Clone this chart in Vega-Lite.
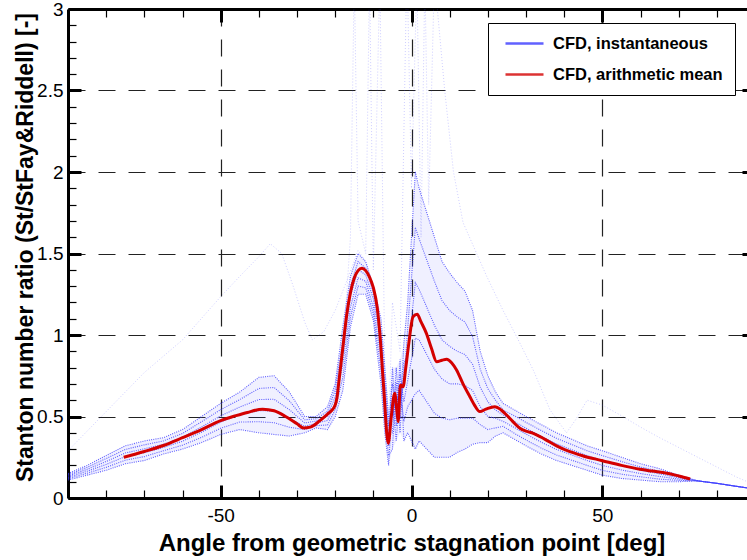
{
"$schema": "https://vega.github.io/schema/vega-lite/v6.json",
"width": 679, "height": 489,
"autosize": "none",
"padding": {"left": 68, "top": 9, "right": 0, "bottom": 62},
"background": "white",
"config": {"view": {"stroke": null}, "font": "Liberation Sans"},
"datasets": {
"band": [
{"x":-90,"lo":0.11,"hi":0.15},{"x":-85,"lo":0.14,"hi":0.2},{"x":-80,"lo":0.17,"hi":0.26},{"x":-75,"lo":0.21,"hi":0.32},{"x":-70,"lo":0.23,"hi":0.35},{"x":-65,"lo":0.27,"hi":0.37},{"x":-60,"lo":0.3,"hi":0.42},{"x":-55,"lo":0.34,"hi":0.5},{"x":-50,"lo":0.39,"hi":0.58},{"x":-45,"lo":0.42,"hi":0.65},{"x":-40,"lo":0.4,"hi":0.74},{"x":-36,"lo":0.39,"hi":0.75},{"x":-32,"lo":0.38,"hi":0.65},{"x":-28,"lo":0.4,"hi":0.5},{"x":-25,"lo":0.43,"hi":0.5},{"x":-22,"lo":0.42,"hi":0.56},{"x":-20,"lo":0.5,"hi":0.7},{"x":-18,"lo":0.66,"hi":1.05},{"x":-16,"lo":1.05,"hi":1.36},{"x":-14,"lo":1.25,"hi":1.5},{"x":-12,"lo":1.25,"hi":1.45},{"x":-10,"lo":1.09,"hi":1.3},{"x":-8,"lo":0.7,"hi":1.1},{"x":-7,"lo":0.4,"hi":0.8},{"x":-6,"lo":0.2,"hi":0.5},{"x":-5,"lo":0.3,"hi":0.8},{"x":-4,"lo":0.35,"hi":0.8},{"x":-3,"lo":0.4,"hi":0.85},{"x":-2,"lo":0.35,"hi":0.95},{"x":-1,"lo":0.4,"hi":1.2},{"x":0,"lo":0.35,"hi":1.6},{"x":1,"lo":0.3,"hi":2.0},{"x":2,"lo":0.35,"hi":1.9},{"x":4,"lo":0.3,"hi":1.75},{"x":6,"lo":0.25,"hi":1.6},{"x":8,"lo":0.25,"hi":1.45},{"x":10,"lo":0.25,"hi":1.38},{"x":12,"lo":0.28,"hi":1.32},{"x":14,"lo":0.3,"hi":1.27},{"x":16,"lo":0.33,"hi":1.15},{"x":18,"lo":0.34,"hi":0.9},{"x":20,"lo":0.34,"hi":0.75},{"x":22,"lo":0.38,"hi":0.65},{"x":24,"lo":0.4,"hi":0.58},{"x":27,"lo":0.36,"hi":0.54},{"x":30,"lo":0.32,"hi":0.5},{"x":34,"lo":0.27,"hi":0.45},{"x":38,"lo":0.23,"hi":0.4},{"x":42,"lo":0.2,"hi":0.36},{"x":46,"lo":0.17,"hi":0.32},{"x":50,"lo":0.14,"hi":0.29},{"x":55,"lo":0.12,"hi":0.25},{"x":60,"lo":0.11,"hi":0.21},{"x":65,"lo":0.1,"hi":0.18},{"x":70,"lo":0.1,"hi":0.14},{"x":75,"lo":0.1,"hi":0.11},{"x":80,"lo":0.088,"hi":0.092},{"x":85,"lo":0.07,"hi":0.074},{"x":90,"lo":0.053,"hi":0.057}
],
"inst": [
{"k":"c1","x":-90,"y":0.11},{"k":"c1","x":-85,"y":0.14},{"k":"c1","x":-80,"y":0.17},{"k":"c1","x":-75,"y":0.21},{"k":"c1","x":-70,"y":0.23},{"k":"c1","x":-65,"y":0.27},{"k":"c1","x":-60,"y":0.3},{"k":"c1","x":-55,"y":0.34},{"k":"c1","x":-50,"y":0.39},{"k":"c1","x":-45,"y":0.42},{"k":"c1","x":-40,"y":0.4},{"k":"c1","x":-36,"y":0.39},{"k":"c1","x":-32,"y":0.38},{"k":"c1","x":-28,"y":0.4},{"k":"c1","x":-25,"y":0.43},{"k":"c1","x":-22,"y":0.42},{"k":"c1","x":-20,"y":0.5},{"k":"c1","x":-18,"y":0.66},{"k":"c1","x":-16,"y":1.05},{"k":"c1","x":-14,"y":1.25},{"k":"c1","x":-12,"y":1.25},{"k":"c1","x":-10,"y":1.09},{"k":"c1","x":-8,"y":0.7},{"k":"c1","x":-7,"y":0.4},{"k":"c1","x":-6,"y":0.2},{"k":"c1","x":-5,"y":0.6},{"k":"c1","x":-4,"y":0.35},{"k":"c1","x":-3,"y":0.67},{"k":"c1","x":-2,"y":0.47},{"k":"c1","x":-1,"y":0.56},{"k":"c1","x":0,"y":0.6},{"k":"c1","x":1,"y":0.64},{"k":"c1","x":2,"y":0.66},{"k":"c1","x":4,"y":0.59},{"k":"c1","x":6,"y":0.52},{"k":"c1","x":8,"y":0.49},{"k":"c1","x":10,"y":0.48},{"k":"c1","x":12,"y":0.49},{"k":"c1","x":14,"y":0.49},{"k":"c1","x":16,"y":0.49},{"k":"c1","x":18,"y":0.45},{"k":"c1","x":20,"y":0.42},{"k":"c1","x":22,"y":0.43},{"k":"c1","x":24,"y":0.44},{"k":"c1","x":27,"y":0.396},{"k":"c1","x":30,"y":0.356},{"k":"c1","x":34,"y":0.306},{"k":"c1","x":38,"y":0.264},{"k":"c1","x":42,"y":0.232},{"k":"c1","x":46,"y":0.2},{"k":"c1","x":50,"y":0.17},{"k":"c1","x":55,"y":0.146},{"k":"c1","x":60,"y":0.13},{"k":"c1","x":65,"y":0.116},{"k":"c1","x":70,"y":0.108},{"k":"c1","x":75,"y":0.105},{"k":"c1","x":80,"y":0.09},{"k":"c1","x":85,"y":0.072},{"k":"c1","x":90,"y":0.055},
{"k":"c2","x":-90,"y":0.118},{"k":"c2","x":-85,"y":0.152},{"k":"c2","x":-80,"y":0.188},{"k":"c2","x":-75,"y":0.232},{"k":"c2","x":-70,"y":0.254},{"k":"c2","x":-65,"y":0.29},{"k":"c2","x":-60,"y":0.324},{"k":"c2","x":-55,"y":0.372},{"k":"c2","x":-50,"y":0.428},{"k":"c2","x":-45,"y":0.466},{"k":"c2","x":-40,"y":0.468},{"k":"c2","x":-36,"y":0.462},{"k":"c2","x":-32,"y":0.434},{"k":"c2","x":-28,"y":0.42},{"k":"c2","x":-25,"y":0.444},{"k":"c2","x":-22,"y":0.448},{"k":"c2","x":-20,"y":0.54},{"k":"c2","x":-18,"y":0.74},{"k":"c2","x":-16,"y":1.11},{"k":"c2","x":-14,"y":1.3},{"k":"c2","x":-12,"y":1.29},{"k":"c2","x":-10,"y":1.13},{"k":"c2","x":-8,"y":0.78},{"k":"c2","x":-7,"y":0.48},{"k":"c2","x":-6,"y":0.26},{"k":"c2","x":-5,"y":0.3},{"k":"c2","x":-4,"y":0.71},{"k":"c2","x":-3,"y":0.4},{"k":"c2","x":-2,"y":0.83},{"k":"c2","x":-1,"y":0.88},{"k":"c2","x":0,"y":1.1},{"k":"c2","x":1,"y":1.32},{"k":"c2","x":2,"y":1.28},{"k":"c2","x":4,"y":1.17},{"k":"c2","x":6,"y":1.06},{"k":"c2","x":8,"y":0.97},{"k":"c2","x":10,"y":0.93},{"k":"c2","x":12,"y":0.9},{"k":"c2","x":14,"y":0.88},{"k":"c2","x":16,"y":0.82},{"k":"c2","x":18,"y":0.68},{"k":"c2","x":20,"y":0.59},{"k":"c2","x":22,"y":0.54},{"k":"c2","x":24,"y":0.51},{"k":"c2","x":27,"y":0.468},{"k":"c2","x":30,"y":0.428},{"k":"c2","x":34,"y":0.378},{"k":"c2","x":38,"y":0.332},{"k":"c2","x":42,"y":0.296},{"k":"c2","x":46,"y":0.26},{"k":"c2","x":50,"y":0.23},{"k":"c2","x":55,"y":0.198},{"k":"c2","x":60,"y":0.17},{"k":"c2","x":65,"y":0.148},{"k":"c2","x":70,"y":0.124},{"k":"c2","x":75,"y":0.105},{"k":"c2","x":80,"y":0.09},{"k":"c2","x":85,"y":0.072},{"k":"c2","x":90,"y":0.055},
{"k":"c3","x":-90,"y":0.126},{"k":"c3","x":-85,"y":0.164},{"k":"c3","x":-80,"y":0.206},{"k":"c3","x":-75,"y":0.254},{"k":"c3","x":-70,"y":0.278},{"k":"c3","x":-65,"y":0.31},{"k":"c3","x":-60,"y":0.348},{"k":"c3","x":-55,"y":0.404},{"k":"c3","x":-50,"y":0.466},{"k":"c3","x":-45,"y":0.512},{"k":"c3","x":-40,"y":0.536},{"k":"c3","x":-36,"y":0.534},{"k":"c3","x":-32,"y":0.488},{"k":"c3","x":-28,"y":0.44},{"k":"c3","x":-25,"y":0.458},{"k":"c3","x":-22,"y":0.476},{"k":"c3","x":-20,"y":0.58},{"k":"c3","x":-18,"y":0.82},{"k":"c3","x":-16,"y":1.17},{"k":"c3","x":-14,"y":1.35},{"k":"c3","x":-12,"y":1.33},{"k":"c3","x":-10,"y":1.17},{"k":"c3","x":-8,"y":0.86},{"k":"c3","x":-7,"y":0.56},{"k":"c3","x":-6,"y":0.32},{"k":"c3","x":-5,"y":0.8},{"k":"c3","x":-4,"y":0.44},{"k":"c3","x":-3,"y":0.85},{"k":"c3","x":-2,"y":0.35},{"k":"c3","x":-1,"y":0.4},{"k":"c3","x":0,"y":0.35},{"k":"c3","x":1,"y":0.3},{"k":"c3","x":2,"y":0.35},{"k":"c3","x":4,"y":0.3},{"k":"c3","x":6,"y":0.25},{"k":"c3","x":8,"y":0.25},{"k":"c3","x":10,"y":0.25},{"k":"c3","x":12,"y":0.28},{"k":"c3","x":14,"y":0.3},{"k":"c3","x":16,"y":0.33},{"k":"c3","x":18,"y":0.34},{"k":"c3","x":20,"y":0.34},{"k":"c3","x":22,"y":0.38},{"k":"c3","x":24,"y":0.4},{"k":"c3","x":27,"y":0.36},{"k":"c3","x":30,"y":0.32},{"k":"c3","x":34,"y":0.27},{"k":"c3","x":38,"y":0.23},{"k":"c3","x":42,"y":0.2},{"k":"c3","x":46,"y":0.17},{"k":"c3","x":50,"y":0.14},{"k":"c3","x":55,"y":0.12},{"k":"c3","x":60,"y":0.11},{"k":"c3","x":65,"y":0.1},{"k":"c3","x":70,"y":0.1},{"k":"c3","x":75,"y":0.105},{"k":"c3","x":80,"y":0.09},{"k":"c3","x":85,"y":0.072},{"k":"c3","x":90,"y":0.055},
{"k":"c4","x":-90,"y":0.134},{"k":"c4","x":-85,"y":0.176},{"k":"c4","x":-80,"y":0.224},{"k":"c4","x":-75,"y":0.276},{"k":"c4","x":-70,"y":0.302},{"k":"c4","x":-65,"y":0.33},{"k":"c4","x":-60,"y":0.372},{"k":"c4","x":-55,"y":0.436},{"k":"c4","x":-50,"y":0.504},{"k":"c4","x":-45,"y":0.558},{"k":"c4","x":-40,"y":0.604},{"k":"c4","x":-36,"y":0.606},{"k":"c4","x":-32,"y":0.542},{"k":"c4","x":-28,"y":0.46},{"k":"c4","x":-25,"y":0.472},{"k":"c4","x":-22,"y":0.504},{"k":"c4","x":-20,"y":0.62},{"k":"c4","x":-18,"y":0.89},{"k":"c4","x":-16,"y":1.24},{"k":"c4","x":-14,"y":1.4},{"k":"c4","x":-12,"y":1.37},{"k":"c4","x":-10,"y":1.22},{"k":"c4","x":-8,"y":0.94},{"k":"c4","x":-7,"y":0.64},{"k":"c4","x":-6,"y":0.38},{"k":"c4","x":-5,"y":0.4},{"k":"c4","x":-4,"y":0.8},{"k":"c4","x":-3,"y":0.49},{"k":"c4","x":-2,"y":0.95},{"k":"c4","x":-1,"y":1.2},{"k":"c4","x":0,"y":1.6},{"k":"c4","x":1,"y":2.0},{"k":"c4","x":2,"y":1.9},{"k":"c4","x":4,"y":1.75},{"k":"c4","x":6,"y":1.6},{"k":"c4","x":8,"y":1.45},{"k":"c4","x":10,"y":1.38},{"k":"c4","x":12,"y":1.32},{"k":"c4","x":14,"y":1.27},{"k":"c4","x":16,"y":1.15},{"k":"c4","x":18,"y":0.9},{"k":"c4","x":20,"y":0.75},{"k":"c4","x":22,"y":0.65},{"k":"c4","x":24,"y":0.58},{"k":"c4","x":27,"y":0.54},{"k":"c4","x":30,"y":0.5},{"k":"c4","x":34,"y":0.45},{"k":"c4","x":38,"y":0.4},{"k":"c4","x":42,"y":0.36},{"k":"c4","x":46,"y":0.32},{"k":"c4","x":50,"y":0.29},{"k":"c4","x":55,"y":0.25},{"k":"c4","x":60,"y":0.21},{"k":"c4","x":65,"y":0.18},{"k":"c4","x":70,"y":0.14},{"k":"c4","x":75,"y":0.105},{"k":"c4","x":80,"y":0.09},{"k":"c4","x":85,"y":0.072},{"k":"c4","x":90,"y":0.055},
{"k":"c5","x":-90,"y":0.142},{"k":"c5","x":-85,"y":0.188},{"k":"c5","x":-80,"y":0.242},{"k":"c5","x":-75,"y":0.298},{"k":"c5","x":-70,"y":0.326},{"k":"c5","x":-65,"y":0.35},{"k":"c5","x":-60,"y":0.396},{"k":"c5","x":-55,"y":0.468},{"k":"c5","x":-50,"y":0.542},{"k":"c5","x":-45,"y":0.604},{"k":"c5","x":-40,"y":0.672},{"k":"c5","x":-36,"y":0.678},{"k":"c5","x":-32,"y":0.596},{"k":"c5","x":-28,"y":0.48},{"k":"c5","x":-25,"y":0.486},{"k":"c5","x":-22,"y":0.532},{"k":"c5","x":-20,"y":0.66},{"k":"c5","x":-18,"y":0.97},{"k":"c5","x":-16,"y":1.3},{"k":"c5","x":-14,"y":1.45},{"k":"c5","x":-12,"y":1.41},{"k":"c5","x":-10,"y":1.26},{"k":"c5","x":-8,"y":1.02},{"k":"c5","x":-7,"y":0.72},{"k":"c5","x":-6,"y":0.44},{"k":"c5","x":-5,"y":0.7},{"k":"c5","x":-4,"y":0.53},{"k":"c5","x":-3,"y":0.76},{"k":"c5","x":-2,"y":0.59},{"k":"c5","x":-1,"y":0.72},{"k":"c5","x":0,"y":0.85},{"k":"c5","x":1,"y":0.98},{"k":"c5","x":2,"y":0.97},{"k":"c5","x":4,"y":0.88},{"k":"c5","x":6,"y":0.79},{"k":"c5","x":8,"y":0.73},{"k":"c5","x":10,"y":0.7},{"k":"c5","x":12,"y":0.7},{"k":"c5","x":14,"y":0.69},{"k":"c5","x":16,"y":0.66},{"k":"c5","x":18,"y":0.56},{"k":"c5","x":20,"y":0.5},{"k":"c5","x":22,"y":0.49},{"k":"c5","x":24,"y":0.47},{"k":"c5","x":27,"y":0.432},{"k":"c5","x":30,"y":0.392},{"k":"c5","x":34,"y":0.342},{"k":"c5","x":38,"y":0.298},{"k":"c5","x":42,"y":0.264},{"k":"c5","x":46,"y":0.23},{"k":"c5","x":50,"y":0.2},{"k":"c5","x":55,"y":0.172},{"k":"c5","x":60,"y":0.15},{"k":"c5","x":65,"y":0.132},{"k":"c5","x":70,"y":0.116},{"k":"c5","x":75,"y":0.105},{"k":"c5","x":80,"y":0.09},{"k":"c5","x":85,"y":0.072},{"k":"c5","x":90,"y":0.055},
{"k":"c6","x":-90,"y":0.15},{"k":"c6","x":-85,"y":0.2},{"k":"c6","x":-80,"y":0.26},{"k":"c6","x":-75,"y":0.32},{"k":"c6","x":-70,"y":0.35},{"k":"c6","x":-65,"y":0.37},{"k":"c6","x":-60,"y":0.42},{"k":"c6","x":-55,"y":0.5},{"k":"c6","x":-50,"y":0.58},{"k":"c6","x":-45,"y":0.65},{"k":"c6","x":-40,"y":0.74},{"k":"c6","x":-36,"y":0.75},{"k":"c6","x":-32,"y":0.65},{"k":"c6","x":-28,"y":0.5},{"k":"c6","x":-25,"y":0.5},{"k":"c6","x":-22,"y":0.56},{"k":"c6","x":-20,"y":0.7},{"k":"c6","x":-18,"y":1.05},{"k":"c6","x":-16,"y":1.36},{"k":"c6","x":-14,"y":1.5},{"k":"c6","x":-12,"y":1.45},{"k":"c6","x":-10,"y":1.3},{"k":"c6","x":-8,"y":1.1},{"k":"c6","x":-7,"y":0.8},{"k":"c6","x":-6,"y":0.5},{"k":"c6","x":-5,"y":0.5},{"k":"c6","x":-4,"y":0.62},{"k":"c6","x":-3,"y":0.58},{"k":"c6","x":-2,"y":0.71},{"k":"c6","x":-1,"y":1.04},{"k":"c6","x":0,"y":1.35},{"k":"c6","x":1,"y":1.66},{"k":"c6","x":2,"y":1.59},{"k":"c6","x":4,"y":1.46},{"k":"c6","x":6,"y":1.33},{"k":"c6","x":8,"y":1.21},{"k":"c6","x":10,"y":1.15},{"k":"c6","x":12,"y":1.11},{"k":"c6","x":14,"y":1.08},{"k":"c6","x":16,"y":0.99},{"k":"c6","x":18,"y":0.79},{"k":"c6","x":20,"y":0.67},{"k":"c6","x":22,"y":0.6},{"k":"c6","x":24,"y":0.54},{"k":"c6","x":27,"y":0.504},{"k":"c6","x":30,"y":0.464},{"k":"c6","x":34,"y":0.414},{"k":"c6","x":38,"y":0.366},{"k":"c6","x":42,"y":0.328},{"k":"c6","x":46,"y":0.29},{"k":"c6","x":50,"y":0.26},{"k":"c6","x":55,"y":0.224},{"k":"c6","x":60,"y":0.19},{"k":"c6","x":65,"y":0.164},{"k":"c6","x":70,"y":0.132},{"k":"c6","x":75,"y":0.105},{"k":"c6","x":80,"y":0.09},{"k":"c6","x":85,"y":0.072},{"k":"c6","x":90,"y":0.055}
],
"out": [
{"k":"o1","x":-90,"y":0.29},{"k":"o1","x":-80,"y":0.53},{"k":"o1","x":-70,"y":0.77},{"k":"o1","x":-60,"y":0.97},{"k":"o1","x":-50,"y":1.235},{"k":"o1","x":-45,"y":1.36},{"k":"o1","x":-40,"y":1.48},{"k":"o1","x":-37,"y":1.56},{"k":"o1","x":-34,"y":1.5},{"k":"o1","x":-31,"y":1.3},{"k":"o1","x":-28,"y":1.08},{"k":"o1","x":-26,"y":0.97},{"k":"o1","x":-23,"y":1.02},{"k":"o1","x":-20,"y":1.15},{"k":"o1","x":-17,"y":1.33},{"k":"o1","x":-14,"y":1.52},{"k":"o1","x":-12,"y":1.45},{"k":"o1","x":-10,"y":1.25},{"k":"o1","x":-8,"y":0.95},{"k":"o1","x":-6,"y":0.45},{"k":"o1","x":-4,"y":0.7},
{"k":"o2","x":-22,"y":0.5},{"k":"o2","x":-18,"y":0.9},{"k":"o2","x":-16,"y":1.6},{"k":"o2","x":-15,"y":3.2},{"k":"o2","x":-14,"y":1.7},{"k":"o2","x":-12,"y":1.5},{"k":"o2","x":-11,"y":3.2},{"k":"o2","x":-10,"y":1.4},{"k":"o2","x":-8.3,"y":3.2},{"k":"o2","x":-7,"y":0.8},{"k":"o2","x":-6,"y":0.4},{"k":"o2","x":-5,"y":1.2},{"k":"o2","x":-3,"y":0.9},{"k":"o2","x":-1.2,"y":3.3},{"k":"o2","x":0,"y":1.9},{"k":"o2","x":1.4,"y":3.2},{"k":"o2","x":2.5,"y":1.6},{"k":"o2","x":3.5,"y":3.2},{"k":"o2","x":4.5,"y":1.8},{"k":"o2","x":6,"y":3.2},
{"k":"o3","x":6,"y":3.2},{"k":"o3","x":8.7,"y":2.5},{"k":"o3","x":11,"y":2.0},{"k":"o3","x":13.5,"y":1.69},{"k":"o3","x":19.7,"y":1.36},{"k":"o3","x":24,"y":1.15},{"k":"o3","x":28.4,"y":0.95},{"k":"o3","x":32,"y":0.78},{"k":"o3","x":36.3,"y":0.54},{"k":"o3","x":40.6,"y":0.4},{"k":"o3","x":43,"y":0.48},{"k":"o3","x":46,"y":0.6},{"k":"o3","x":50,"y":0.57},{"k":"o3","x":54.6,"y":0.51},{"k":"o3","x":60,"y":0.435},{"k":"o3","x":65,"y":0.37},{"k":"o3","x":70,"y":0.31},{"k":"o3","x":75,"y":0.25},{"k":"o3","x":80,"y":0.19},{"k":"o3","x":85,"y":0.13},{"k":"o3","x":90,"y":0.08}
],
"mean": [
{"x":-75.4,"y":0.25},{"x":-70,"y":0.285},{"x":-65,"y":0.322},{"x":-60,"y":0.37},{"x":-55,"y":0.42},{"x":-50,"y":0.475},{"x":-46,"y":0.505},{"x":-43,"y":0.525},{"x":-39,"y":0.545},{"x":-36,"y":0.535},{"x":-33,"y":0.5},{"x":-30,"y":0.455},{"x":-28.3,"y":0.43},{"x":-26.5,"y":0.435},{"x":-24,"y":0.475},{"x":-22,"y":0.515},{"x":-21,"y":0.535},{"x":-20,"y":0.57},{"x":-19.5,"y":0.62},{"x":-19,"y":0.72},{"x":-18,"y":0.92},{"x":-17,"y":1.12},{"x":-16,"y":1.26},{"x":-15,"y":1.35},{"x":-14,"y":1.395},{"x":-13,"y":1.41},{"x":-12,"y":1.395},{"x":-11,"y":1.355},{"x":-10,"y":1.29},{"x":-9,"y":1.17},{"x":-8.3,"y":1.01},{"x":-7.3,"y":0.68},{"x":-6.1,"y":0.336},{"x":-5.3,"y":0.5},{"x":-4.4,"y":0.642},{"x":-3.9,"y":0.55},{"x":-3.5,"y":0.468},{"x":-2.9,"y":0.693},{"x":-2.2,"y":0.683},{"x":-1.5,"y":0.8},{"x":-0.7,"y":0.95},{"x":0.4,"y":1.112},{"x":1.5,"y":1.127},{"x":2.5,"y":1.08},{"x":3.9,"y":1.01},{"x":5.2,"y":0.92},{"x":6.6,"y":0.836},{"x":8,"y":0.845},{"x":9.2,"y":0.851},{"x":10.5,"y":0.83},{"x":11.8,"y":0.785},{"x":13.5,"y":0.7},{"x":15.3,"y":0.621},{"x":16.5,"y":0.57},{"x":17.9,"y":0.53},{"x":19.5,"y":0.545},{"x":21.8,"y":0.56},{"x":23.5,"y":0.54},{"x":24.9,"y":0.509},{"x":26.5,"y":0.47},{"x":28.4,"y":0.428},{"x":30,"y":0.41},{"x":31.9,"y":0.397},{"x":35,"y":0.36},{"x":38,"y":0.32},{"x":41.5,"y":0.284},{"x":45,"y":0.258},{"x":50,"y":0.229},{"x":55,"y":0.2},{"x":59.9,"y":0.176},{"x":63,"y":0.165},{"x":66.9,"y":0.152},{"x":70,"y":0.135},{"x":73,"y":0.117}
]
},
"resolve": {"axis": {"x": "independent", "y": "independent"}},
"layer": [
{
"data": {"name": "band"},
"mark": {"type": "area", "clip": true, "color": "#7070ff", "opacity": 0.1},
"encoding": {
"x": {"field": "x", "type": "quantitative", "scale": {"domain": [-90, 87.9], "nice": false, "zero": false},
 "axis": {"orient": "bottom", "values": [-90,-80,-70,-60,-50,-40,-30,-20,-10,0,10,20,30,40,50,60,70,80],
  "domainColor": "black", "domainWidth": 3, "tickColor": "black",
  "tickSize": {"condition": {"test": "datum.value % 50 === 0", "value": -13}, "value": -8},
  "tickWidth": {"condition": {"test": "datum.value % 50 === 0", "value": 3}, "value": 1.2},
  "grid": true, "gridColor": "#222222", "gridDash": [17, 13], "gridWidth": 1.2,
  "gridOpacity": {"condition": {"test": "datum.value % 50 === 0", "value": 1}, "value": 0},
  "labelExpr": "datum.value % 50 === 0 ? '' + datum.value : ''",
  "labelFont": "Liberation Sans", "labelFontSize": 19, "labelColor": "black", "labelPadding": 21,
  "labelFlush": false, "labelOverlap": false,
  "title": "Angle from geometric stagnation point [deg]",
  "titleFont": "Liberation Sans", "titleFontSize": 24, "titleFontWeight": "bold", "titleColor": "black",
  "titleX": 343.5, "titleY": 52, "titleBaseline": "alphabetic", "titleAlign": "center"}},
"y": {"field": "lo", "type": "quantitative", "scale": {"domain": [0, 3], "nice": false, "zero": false},
 "axis": {"orient": "left", "values": [0,0.1,0.2,0.3,0.4,0.5,0.6,0.7,0.8,0.9,1,1.1,1.2,1.3,1.4,1.5,1.6,1.7,1.8,1.9,2,2.1,2.2,2.3,2.4,2.5,2.6,2.7,2.8,2.9,3],
  "domainColor": "black", "domainWidth": 3, "tickColor": "black",
  "tickSize": {"condition": {"test": "abs(round(datum.value*10)) % 5 === 0", "value": -13}, "value": -8},
  "tickWidth": {"condition": {"test": "abs(round(datum.value*10)) % 5 === 0", "value": 3}, "value": 1.2},
  "grid": true, "gridColor": "#222222", "gridDash": [17, 13], "gridWidth": 1.2,
  "gridOpacity": {"condition": {"test": "abs(round(datum.value*10)) % 5 === 0", "value": 1}, "value": 0},
  "labelExpr": "abs(round(datum.value*10)) % 5 === 0 ? '' + round(datum.value*10)/10 : ''",
  "labelFont": "Liberation Sans", "labelFontSize": 19, "labelColor": "black", "labelPadding": 18,
  "labelFlush": false, "labelOverlap": false,
  "title": "Stanton number ratio (St/StFay&Riddell) [-]",
  "titleFont": "Liberation Sans", "titleFontSize": 23, "titleFontWeight": "bold", "titleColor": "black",
  "titleAngle": -90, "titleX": -36, "titleY": 238, "titleBaseline": "alphabetic", "titleAlign": "center"}},
"y2": {"field": "hi"}
}
},
{
"data": {"name": "inst"},
"mark": {"type": "line", "clip": true, "strokeWidth": 1.1, "strokeDash": [1, 1.2], "opacity": 0.8},
"encoding": {
"x": {"field": "x", "type": "quantitative", "scale": {"domain": [-90, 87.9], "nice": false, "zero": false}, "axis": null},
"y": {"field": "y", "type": "quantitative", "scale": {"domain": [0, 3], "nice": false, "zero": false}, "axis": null},
"detail": {"field": "k"},
"color": {"datum": "CFD, instantaneous", "type": "nominal",
 "scale": {"domain": ["CFD, instantaneous", "CFD, arithmetic mean"], "range": ["#3a3aff", "#d40000"]},
 "legend": {"orient": "none", "legendX": 420, "legendY": 14, "title": null,
  "symbolType": "stroke", "symbolSize": 1444, "symbolStrokeWidth": 2.5, "symbolOffset": 4, "clipHeight": 17,
  "labelFont": "Liberation Sans", "labelFontSize": 16.5, "labelFontWeight": "bold", "labelColor": "black", "labelLimit": 300,
  "labelOffset": 8, "rowPadding": 14, "padding": 12, "fillColor": "white", "strokeColor": "black", "cornerRadius": 0,
  "encode": {
   "legend": {"strokeWidth": {"value": 2}},
   "symbols": {
    "strokeDash": {"condition": {"test": "datum.value === 'CFD, instantaneous'", "value": [1.5, 1.5]}, "value": [1, 0]},
    "strokeWidth": {"condition": {"test": "datum.value === 'CFD, instantaneous'", "value": 1.5}, "value": 3},
    "opacity": {"condition": {"test": "datum.value === 'CFD, instantaneous'", "value": 0.6}, "value": 1}}}}}
}
},
{
"data": {"name": "out"},
"mark": {"type": "line", "clip": true, "strokeWidth": 1, "strokeDash": [1, 2], "opacity": 0.25},
"encoding": {
"x": {"field": "x", "type": "quantitative", "scale": {"domain": [-90, 87.9], "nice": false, "zero": false}, "axis": null},
"y": {"field": "y", "type": "quantitative", "scale": {"domain": [0, 3], "nice": false, "zero": false}, "axis": null},
"detail": {"field": "k"},
"color": {"datum": "CFD, instantaneous", "type": "nominal"}
}
},
{
"data": {"name": "mean"},
"mark": {"type": "line", "clip": true, "strokeWidth": 3, "interpolate": "monotone"},
"encoding": {
"x": {"field": "x", "type": "quantitative", "scale": {"domain": [-90, 87.9], "nice": false, "zero": false},
 "axis": {"orient": "top", "values": [-90,-80,-70,-60,-50,-40,-30,-20,-10,0,10,20,30,40,50,60,70,80],
  "domainColor": "black", "domainWidth": 3, "tickColor": "black",
  "tickSize": {"condition": {"test": "datum.value % 50 === 0", "value": -13}, "value": -8},
  "tickWidth": {"condition": {"test": "datum.value % 50 === 0", "value": 3}, "value": 1.2},
  "grid": false, "labels": false, "title": null}},
"y": {"field": "y", "type": "quantitative", "scale": {"domain": [0, 3], "nice": false, "zero": false},
 "axis": {"orient": "right", "offset": 8, "values": [0,0.1,0.2,0.3,0.4,0.5,0.6,0.7,0.8,0.9,1,1.1,1.2,1.3,1.4,1.5,1.6,1.7,1.8,1.9,2,2.1,2.2,2.3,2.4,2.5,2.6,2.7,2.8,2.9,3],
  "domainColor": "black", "domainWidth": 3, "tickColor": "black",
  "tickSize": {"condition": {"test": "abs(round(datum.value*10)) % 5 === 0", "value": -13}, "value": -8},
  "tickWidth": {"condition": {"test": "abs(round(datum.value*10)) % 5 === 0", "value": 3}, "value": 1.2},
  "grid": false, "labels": false, "title": null}},
"color": {"datum": "CFD, arithmetic mean", "type": "nominal"}
}
}
]
}
